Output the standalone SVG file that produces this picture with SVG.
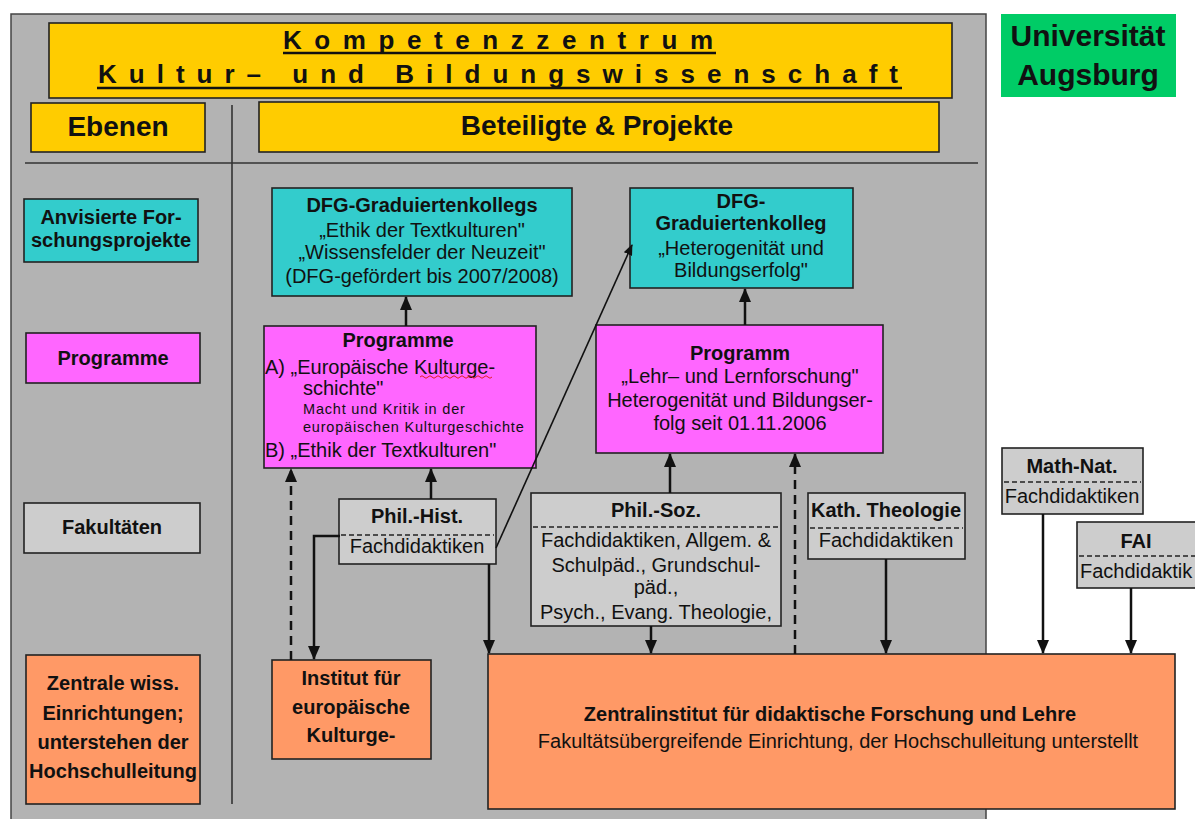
<svg xmlns="http://www.w3.org/2000/svg" width="1195" height="819" viewBox="0 0 1195 819">
<style>
text{font-family:"Liberation Sans",Arial,Helvetica,sans-serif;fill:#111;font-size:20px}
.b{font-weight:bold}
.m{text-anchor:middle}
.ttl{font-size:26px;font-weight:bold}
.hd{font-size:28px;font-weight:bold}
.uni{font-size:30px;font-weight:bold}
.sm{font-size:14.5px;letter-spacing:0.8px}
.box{stroke:#222;stroke-width:1.6}
.yel{fill:#FFCC00}
.cy{fill:#33CCCC}
.pk{fill:#FF66FF}
.lg{fill:#CDCDCD}
.or{fill:#FF9966}
.sep{stroke:#222;stroke-width:1.3;stroke-dasharray:5 3;fill:none}
.ln{stroke:#111;stroke-width:2.5;fill:none}
.dash{stroke:#111;stroke-width:2.5;fill:none;stroke-dasharray:9 6}
.thin{stroke:#111;stroke-width:1.6;fill:none}
.rule{stroke:#333;stroke-width:1.6;fill:none}
</style>
<defs>
<marker id="ah" markerUnits="userSpaceOnUse" markerWidth="14" markerHeight="12" viewBox="0 0 14 12" refX="13" refY="6" orient="auto">
<path d="M0,0 L14,6 L0,12 z" fill="#111"/>
</marker>
<marker id="ahs" markerUnits="userSpaceOnUse" markerWidth="11" markerHeight="9" viewBox="0 0 11 9" refX="10" refY="4.5" orient="auto">
<path d="M0,0 L11,4.5 L0,9 z" fill="#111"/>
</marker>
<clipPath id="canvas"><rect x="0" y="0" width="1195" height="819"/></clipPath>
</defs>
<rect width="1195" height="819" fill="#fff"/>
<rect x="11" y="14" width="975" height="830" fill="#B3B3B3" stroke="#444" stroke-width="1.5"/>
<line class="rule" x1="232" y1="105" x2="232" y2="804"/>
<line class="rule" x1="25" y1="163" x2="978" y2="163" stroke-width="2"/>

<g id="title">
<rect class="box yel" x="49" y="23" width="903" height="75"/>
<text class="ttl" x="283" y="49" textLength="430" lengthAdjust="spacing">Kompetenzzentrum</text>
<line x1="283" y1="53" x2="716" y2="53" stroke="#111" stroke-width="2.5"/>
<text class="ttl" x="98" y="83" textLength="800" lengthAdjust="spacing">Kultur– und Bildungswissenschaft</text>
<line x1="97" y1="88" x2="902" y2="88" stroke="#111" stroke-width="2.5"/>
</g>
<g id="uni">
<rect x="1001" y="14" width="175" height="83" fill="#00CC66"/>
<text class="uni m" x="1088" y="46">Universität</text>
<text class="uni m" x="1088" y="85">Augsburg</text>
</g>
<g id="ebenen">
<rect class="box yel" x="31" y="103" width="174" height="49"/>
<text class="hd m" x="118" y="136">Ebenen</text>
</g>
<g id="beteiligte">
<rect class="box yel" x="259" y="102" width="680" height="50"/>
<text class="hd m" x="597" y="135">Beteiligte &amp; Projekte</text>
</g>

<g id="lvl-anvisierte">
<rect class="box cy" x="24" y="199" width="174" height="63"/>
<text class="b m" x="111" y="224">Anvisierte For-</text>
<text class="b m" x="111" y="247">schungsprojekte</text>
</g>
<g id="lvl-programme">
<rect class="box pk" x="26" y="333" width="174" height="50"/>
<text class="b m" x="113" y="365">Programme</text>
</g>
<g id="lvl-fakultaeten">
<rect class="box lg" x="24" y="503" width="176" height="50"/>
<text class="b m" x="112" y="534">Fakultäten</text>
</g>
<g id="lvl-zentrale">
<rect class="box or" x="26" y="655" width="174" height="149"/>
<text class="b m" x="113" y="690">Zentrale wiss.</text>
<text class="b m" x="113" y="720">Einrichtungen;</text>
<text class="b m" x="113" y="749">unterstehen der</text>
<text class="b m" x="113" y="778">Hochschulleitung</text>
</g>

<g id="dfg-gk-kultur">
<rect class="box cy" x="272" y="188" width="300" height="108"/>
<text class="b m" x="422" y="212">DFG-Graduiertenkollegs</text>
<text class="m" x="422" y="237">„Ethik der Textkulturen"</text>
<text class="m" x="422" y="259">„Wissensfelder der Neuzeit"</text>
<text class="m" x="422" y="283">(DFG-gefördert bis 2007/2008)</text>
</g>
<g id="dfg-gk-bildung">
<rect class="box cy" x="630" y="188" width="223" height="100"/>
<text class="b m" x="741" y="208">DFG-</text>
<text class="b m" x="741" y="230">Graduiertenkolleg</text>
<text class="m" x="741" y="255">„Heterogenität und</text>
<text class="m" x="741" y="277">Bildungserfolg"</text>
</g>
<g id="programme-kultur">
<rect class="box pk" x="264" y="326" width="272" height="142"/>
<text class="b m" x="398" y="347">Programme</text>
<text x="265" y="374">A) „Europäische Kulturge-</text>
<path d="M420,377 q2,-2.5 4,0 t4,0 t4,0 t4,0 t4,0 t4,0 t4,0 t4,0 t4,0 t4,0 t4,0 t4,0 t4,0 t4,0 t4,0 t4,0 t4,0 t4,0" fill="none" stroke="#E02020" stroke-width="1"/>
<text x="303" y="395">schichte"</text>
<text class="sm" x="303" y="414">Macht und Kritik in der</text>
<text class="sm" x="303" y="432">europäischen Kulturgeschichte</text>
<text x="265" y="457">B) „Ethik der Textkulturen"</text>
</g>
<g id="programm-bildung">
<rect class="box pk" x="596" y="325" width="287" height="128"/>
<text class="b m" x="740" y="360">Programm</text>
<text class="m" x="740" y="383">„Lehr– und Lernforschung"</text>
<text class="m" x="740" y="407">Heterogenität und Bildungser-</text>
<text class="m" x="740" y="430">folg seit 01.11.2006</text>
</g>

<g id="phil-hist">
<rect class="box lg" x="339" y="499" width="157" height="65"/>
<text class="b m" x="417" y="523">Phil.-Hist.</text>
<line class="sep" x1="341" y1="535" x2="494" y2="535"/>
<text class="m" x="417" y="553">Fachdidaktiken</text>
</g>
<g id="phil-soz">
<rect class="box lg" x="531" y="493" width="250" height="133"/>
<text class="b m" x="656" y="517">Phil.-Soz.</text>
<line class="sep" x1="533" y1="527" x2="779" y2="527"/>
<text class="m" x="656" y="547">Fachdidaktiken, Allgem. &amp;</text>
<text class="m" x="656" y="572">Schulpäd., Grundschul-</text>
<text class="m" x="656" y="594">päd.,</text>
<text class="m" x="656" y="619">Psych., Evang. Theologie,</text>
</g>
<g id="kath-theologie">
<rect class="box lg" x="808" y="493" width="157" height="66"/>
<text class="b m" x="886" y="517">Kath. Theologie</text>
<line class="sep" x1="810" y1="528" x2="963" y2="528"/>
<text class="m" x="886" y="547">Fachdidaktiken</text>
</g>
<g id="math-nat">
<rect class="box lg" x="1002" y="448" width="141" height="66"/>
<text class="b m" x="1072" y="473">Math-Nat.</text>
<line class="sep" x1="1004" y1="482" x2="1141" y2="482"/>
<text class="m" x="1072" y="503">Fachdidaktiken</text>
</g>
<g id="fai" clip-path="url(#canvas)">
<rect class="box lg" x="1077" y="522" width="141" height="66"/>
<text class="b m" x="1136" y="548">FAI</text>
<line class="sep" x1="1079" y1="556" x2="1216" y2="556"/>
<text x="1080" y="578">Fachdidaktik</text>
</g>

<g id="institut-kultur">
<rect class="box or" x="272" y="660" width="159" height="99"/>
<text class="b m" x="351" y="685">Institut für</text>
<text class="b m" x="351" y="714">europäische</text>
<text class="b m" x="351" y="742">Kulturge-</text>
</g>
<g id="zentralinstitut">
<rect class="box or" x="488" y="654" width="687" height="155"/>
<text class="b m" x="830" y="721">Zentralinstitut für didaktische Forschung und Lehre</text>
<text class="m" x="838" y="748">Fakultätsübergreifende Einrichtung, der Hochschulleitung unterstellt</text>
</g>

<g id="connectors">
<line class="ln" x1="406" y1="326" x2="406" y2="297" marker-end="url(#ah)"/>
<line class="ln" x1="745" y1="325" x2="745" y2="289" marker-end="url(#ah)"/>
<line class="dash" x1="291" y1="660" x2="291" y2="469" marker-end="url(#ah)"/>
<line class="ln" x1="431" y1="499" x2="431" y2="469" marker-end="url(#ah)"/>
<polyline class="ln" points="340,536 314,536 314,659" marker-end="url(#ah)"/>
<line class="ln" x1="489" y1="564" x2="489" y2="653" marker-end="url(#ah)"/>
<line class="thin" x1="496" y1="548" x2="632" y2="245" marker-end="url(#ahs)"/>
<line class="ln" x1="670" y1="493" x2="670" y2="454" marker-end="url(#ah)"/>
<line class="ln" x1="651" y1="626" x2="651" y2="653" marker-end="url(#ah)"/>
<line class="dash" x1="795" y1="654" x2="795" y2="454" marker-end="url(#ah)"/>
<line class="ln" x1="886" y1="559" x2="886" y2="653" marker-end="url(#ah)"/>
<line class="ln" x1="1043" y1="514" x2="1043" y2="653" marker-end="url(#ah)"/>
<line class="ln" x1="1131" y1="588" x2="1131" y2="653" marker-end="url(#ah)"/>
</g>
</svg>
